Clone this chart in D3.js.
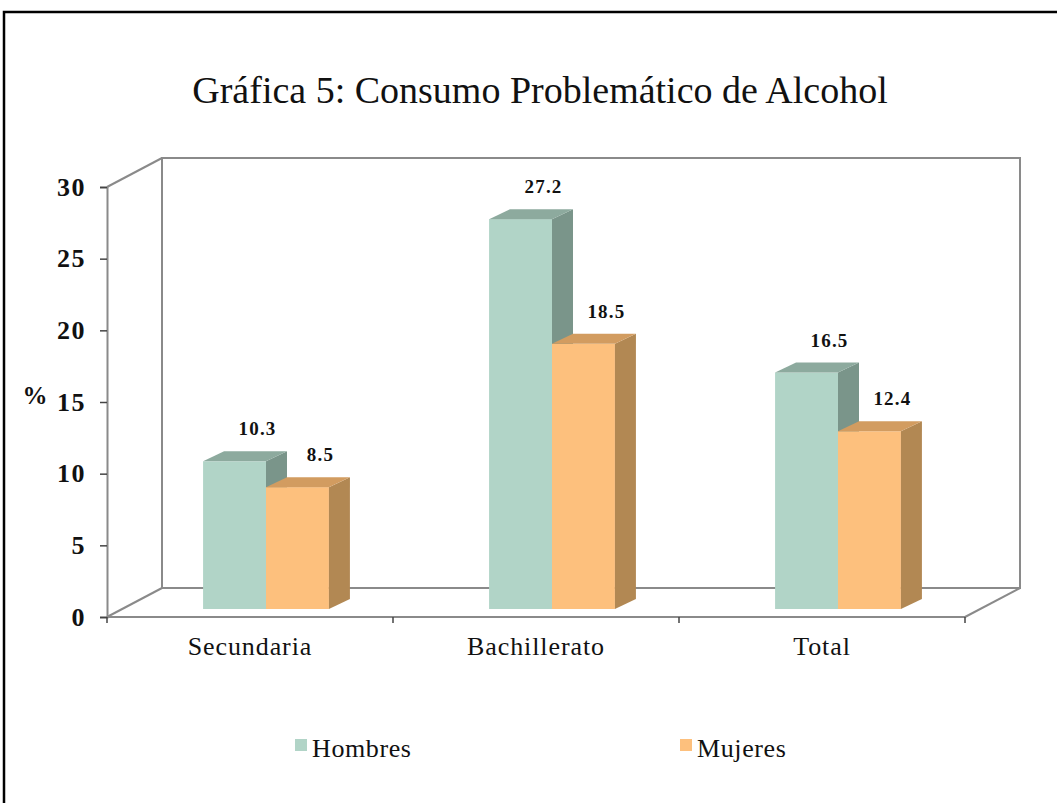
<!DOCTYPE html>
<html><head><meta charset="utf-8">
<script src="https://cdn.jsdelivr.net/npm/d3@7"></script>
<style>body{margin:0;background:#fff}svg{display:block}</style>
</head><body>
<svg id="c" width="1057" height="803"></svg>
<script>
const categories = ["Secundaria", "Bachillerato", "Total"];
const series = ["Hombres", "Mujeres"];
const hombres = [10.3, 27.2, 16.5];
const mujeres = [8.5, 18.5, 12.4];
const yTicks = [0, 5, 10, 15, 20, 25, 30];
const title = "Gráfica 5: Consumo Problemático de Alcohol";
const yLabel = "%";

(function () {
const values = {Hombres: hombres, Mujeres: mujeres};
const colors = {
  Hombres: {front: "#b1d4c7", side: "#7a958a", top: "#8daa9e"},
  Mujeres: {front: "#fdc07d", side: "#b28853", top: "#d29c60"}
};
const FONT = "'Liberation Serif', 'DejaVu Serif', serif";
const svg = d3.select("#c");

svg.append("rect").attr("x", 4).attr("y", 12).attr("width", 1100).attr("height", 900)
  .attr("fill", "none").attr("stroke", "#000").attr("stroke-width", 2.5);

const pLeft = 107, pRight = 965, pBottom = 617, pTop = 187;
const D = {dx: 55, dy: -29};
const x0 = d3.scaleBand().domain(categories).range([pLeft, pRight]).paddingInner(0.56).paddingOuter(0.28);
const x1 = d3.scaleBand().domain(series).range([0, x0.bandwidth()]);
const y = d3.scaleLinear().domain([0, 30]).range([pBottom, pTop]);

const wallC = "#8a8a8a";
const g = svg.append("g");
g.append("rect").attr("x", pLeft + D.dx).attr("y", pTop + D.dy)
  .attr("width", pRight - pLeft).attr("height", pBottom - pTop)
  .attr("fill", "none").attr("stroke", wallC).attr("stroke-width", 2);
const lines = [
  [pLeft, y(30), pLeft + D.dx, y(30) + D.dy],
  [pLeft, y(0), pLeft + D.dx, y(0) + D.dy],
  [pRight, y(0), pRight + D.dx, y(0) + D.dy],
  [pLeft, y(0), pRight, y(0)]
];
lines.forEach(l => g.append("line").attr("x1", l[0]).attr("y1", l[1]).attr("x2", l[2]).attr("y2", l[3])
  .attr("stroke", wallC).attr("stroke-width", 2));

const yAxis = d3.axisLeft(y).tickValues(yTicks).tickSize(7).tickPadding(14);
const ya = svg.append("g").attr("transform", `translate(${pLeft},0)`).call(yAxis);
ya.select(".domain").attr("stroke", wallC).attr("stroke-width", 2);
ya.selectAll(".tick line").attr("stroke", "#444").attr("stroke-width", 1.5);
ya.selectAll("text").attr("font-family", FONT).attr("font-size", 26).attr("font-weight", "bold")
  .attr("letter-spacing", 1.5).attr("fill", "#111");

const xTickPos = [pLeft, ...categories.map((c, i) => pLeft + x0.step() * (i + 1))];
xTickPos.forEach(p => svg.append("line").attr("x1", p).attr("x2", p).attr("y1", pBottom).attr("y2", pBottom + 6)
  .attr("stroke", "#444").attr("stroke-width", 1.5));

categories.forEach((c, i) => {
  svg.append("text").attr("x", pLeft + x0.step() * (i + 0.5)).attr("y", 655)
    .attr("text-anchor", "middle").attr("font-family", FONT).attr("font-size", 26)
    .attr("letter-spacing", 0.9).attr("fill", "#111").text(c);
});

const bShift = {dx: 16, dy: -8};
const bD = {dx: 21, dy: -10};
categories.forEach((c, i) => {
  series.forEach(s => {
    const v = values[s][i];
    const bx = x0(c) + x1(s) + bShift.dx;
    const w = x1.bandwidth();
    const yt = y(v) + bShift.dy, yb = y(0) + bShift.dy;
    const col = colors[s];
    svg.append("rect").attr("x", bx).attr("y", yt).attr("width", w).attr("height", yb - yt).attr("fill", col.front);
    svg.append("polygon").attr("points", [[bx + w, yt], [bx + w + bD.dx, yt + bD.dy], [bx + w + bD.dx, yb + bD.dy], [bx + w, yb]].join(" "))
      .attr("fill", col.side);
    svg.append("polygon").attr("points", [[bx, yt], [bx + w, yt], [bx + w + bD.dx, yt + bD.dy], [bx + bD.dx, yt + bD.dy]].join(" "))
      .attr("fill", col.top);
    svg.append("text").attr("x", bx + w / 2 + 23).attr("y", yt - 26)
      .attr("text-anchor", "middle").attr("font-family", FONT).attr("font-size", 19).attr("font-weight", "bold")
      .attr("letter-spacing", 1.2).attr("fill", "#111").text(v.toFixed(1));
  });
});

svg.append("text").attr("x", 35).attr("y", 404).attr("text-anchor", "middle")
  .attr("font-family", FONT).attr("font-size", 25).attr("font-weight", "bold").attr("fill", "#111").text(yLabel);

svg.append("text").attr("x", 540).attr("y", 103).attr("text-anchor", "middle")
  .attr("font-family", FONT).attr("font-size", 38).attr("fill", "#111").text(title);

const legX = {Hombres: 295, Mujeres: 680};
series.forEach(s => {
  svg.append("rect").attr("x", legX[s]).attr("y", 739).attr("width", 12).attr("height", 12).attr("fill", colors[s].front);
  svg.append("text").attr("x", legX[s] + 17).attr("y", 757).attr("font-family", FONT).attr("font-size", 26)
    .attr("letter-spacing", 0.6).attr("fill", "#111").text(s);
});
})();
</script>
</body></html>
